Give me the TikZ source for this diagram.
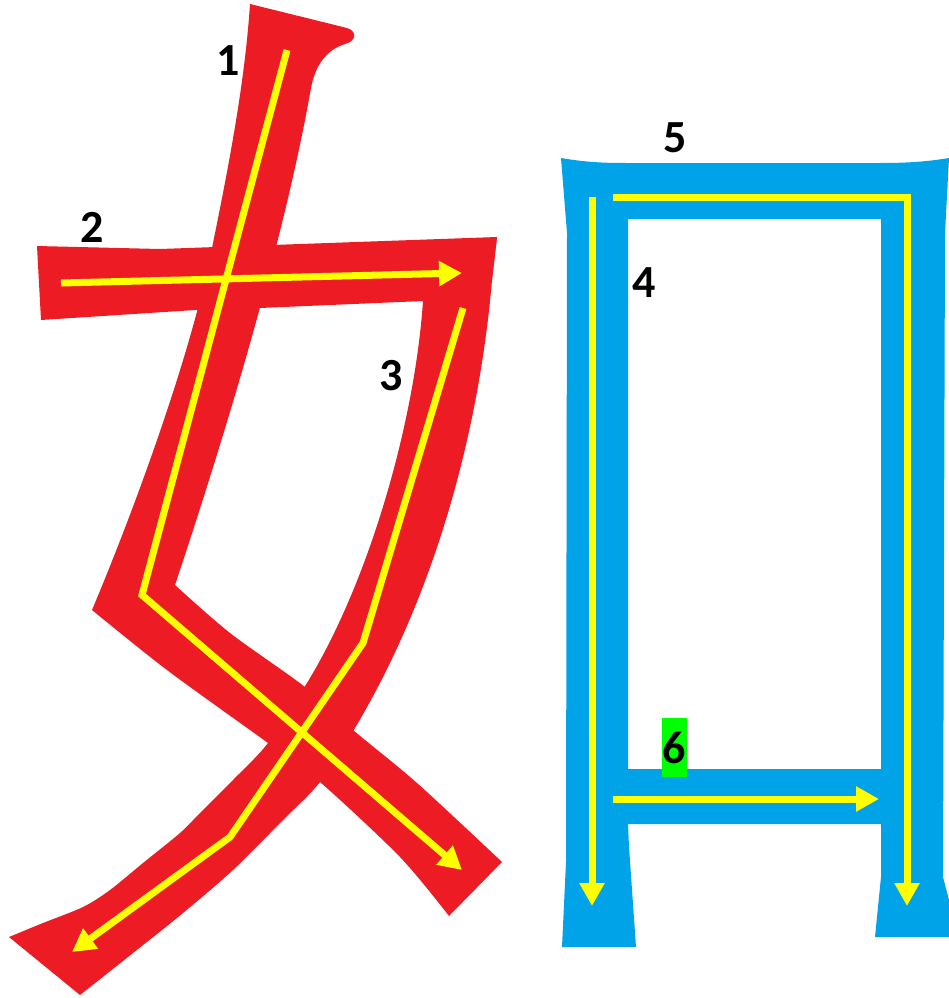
\documentclass[tikz,border=0pt]{standalone}
\usepackage{fontspec}
\setmainfont{Carlito}
\usetikzlibrary{arrows.meta}
\definecolor{strokered}{HTML}{ED1C24}
\definecolor{radblue}{HTML}{00A2E8}
\definecolor{guideyel}{HTML}{FFFF00}
\definecolor{hlgreen}{HTML}{00FF00}
\tikzset{
  redpart/.style={fill=strokered, draw=none},
  bluepart/.style={fill=radblue, draw=none, even odd rule},
  guide/.style={draw=guideyel, line width=7pt},
  guidearrow/.style={guide, -{Triangle[length=23pt,width=24pt]}},
  numlabel/.style={font=\fontsize{46}{50}\selectfont\bfseries, text=black, inner sep=0pt},
  soft/.style={smooth, tension=0.5},
}
\begin{document}
\begin{tikzpicture}[x=1pt,y=-1pt]
\useasboundingbox (0,0) rectangle (949,998);

% ---------- 女 : red strokes ----------
% stroke 1 (pie-dian)
\path[redpart] (250,4) -- (347,28) .. controls (357,31) and (357,41) .. (345,44)
  .. controls (326,50) and (315,66) .. (311,88)
  .. controls (300,150) and (270,300) .. (175,585)
  -- plot[soft] coordinates {(175,585) (230,633) (305,687) (353,730) (417,783) (502,862)}
  -- (449,916)
  -- plot[soft] coordinates {(449,916) (400,857) (320,782) (268,743) (167,670) (92,610)}
  .. controls (130,520) and (190,360) .. (212,248)
  .. controls (230,160) and (245,80) .. (250,4)
  -- cycle;
% stroke 2 (horizontal)
\path[redpart] (37,246) -- (160,249) -- (497,237) -- (492,280) -- (423,301)
  -- (260,308) -- (195,310) -- (41,320) -- cycle;
% stroke 3 (long pie)
\path[redpart] (497,237) -- (492,280)
  .. controls (480,420) and (440,585) .. (355,728)
  -- plot[soft] coordinates {(355,728) (320,782) (283,820) (233,870) (183,913) (133,953) (80,995)}
  -- (9,937)
  -- plot[soft] coordinates {(9,937) (43,923) (83,907) (110,890) (143,863) (180,833) (200,813) (233,780) (268,743) (307,683)}
  .. controls (370,580) and (415,420) .. (423,301)
  -- (423,245) -- cycle;

% ---------- 口 : blue ----------
\path[bluepart] (561,158) .. controls (590,163) and (610,163) .. (630,163) -- (880,163)
  .. controls (905,163) and (925,162) .. (949,158) -- (945,233) -- (943,877)
  -- (949,900) -- (949,937) -- (875,937) -- (881,877) -- (881,824) -- (628,824)
  -- (629,847) -- (636,947) -- (562,947) -- (566,862) -- (567,233) -- cycle
  (628,219) rectangle (881,769);

% ---------- guide coordinates ----------
\coordinate (a1) at (287,50);
\coordinate (b1) at (142,595);
\coordinate (e1) at (462,870);
\coordinate (a2) at (61,283);
\coordinate (e2) at (462,273);
\coordinate (a3) at (463,308);
\coordinate (b3) at (363,643);
\coordinate (c3) at (230,837);
\coordinate (e3) at (72,952);
\coordinate (a4) at (592,197);
\coordinate (e4) at (592,906);
\coordinate (a5) at (613,197);
\coordinate (b5) at (907,197);
\coordinate (e5) at (907,906);
\coordinate (a6) at (613,799);
\coordinate (e6) at (879,799);

% ---------- yellow guides ----------
\draw[guidearrow] (a1) -- (b1) -- (e1);
\draw[guidearrow] (a2) -- (e2);
\draw[guidearrow] (a3) -- (b3) -- (c3) -- (e3);
\draw[guidearrow] (a4) -- (e4);
\draw[guidearrow] (a5) -- (b5) -- (e5);
\draw[guidearrow] (a6) -- (e6);

% ---------- numbers ----------
\node[numlabel] (n1) at (228,61) {1};
\node[numlabel] (n2) at (92,227) {2};
\node[numlabel] (n3) at (391,376) {3};
\node[numlabel] (n4) at (644,283) {4};
\node[numlabel] (n5) at (675,138) {5};
\node[numlabel, fill=hlgreen, minimum width=25pt, minimum height=59pt] (n6) at (674.5,747.5) {6};
\end{tikzpicture}
\end{document}
